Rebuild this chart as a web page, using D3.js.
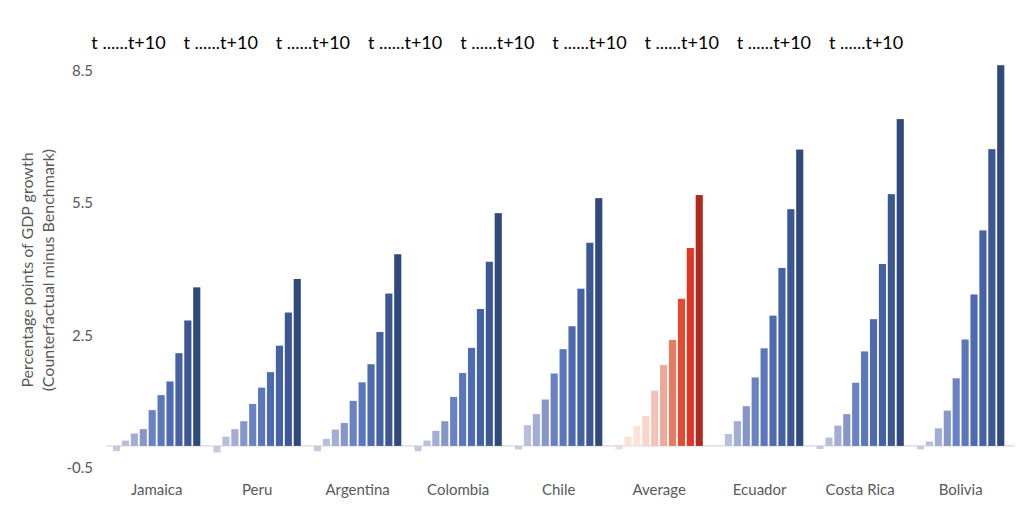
<!DOCTYPE html>
<html>
<head>
<meta charset="utf-8">
<script src="https://cdn.jsdelivr.net/npm/d3@7"></script>
<style>
body{ margin:0; background:#fff; }
svg text{ font-family: Lato, "Open Sans", sans-serif; }
.tick_lbl{ fill:#595959; font-size:15px; }
.cat_lbl{ fill:#595959; font-size:15px; }
.top_lbl{ fill:#000; font-size:18px; }
.y_title{ fill:#595959; font-size:16px; }
</style>
</head>
<body>
<svg></svg>
<script>
// data
var countries = ["Jamaica", "Peru", "Argentina", "Colombia", "Chile", "Average", "Ecuador", "Costa Rica", "Bolivia"];
var jamaica   = [-0.12, 0.12, 0.28, 0.38, 0.81, 1.15, 1.46, 2.10, 2.84, 3.59];
var peru      = [-0.15, 0.21, 0.38, 0.56, 0.95, 1.32, 1.67, 2.27, 3.02, 3.78];
var argentina = [-0.12, 0.16, 0.37, 0.52, 1.02, 1.44, 1.85, 2.58, 3.45, 4.34];
var colombia  = [-0.12, 0.12, 0.34, 0.56, 1.11, 1.65, 2.22, 3.10, 4.17, 5.27];
var chile     = [-0.08, 0.47, 0.72, 1.05, 1.64, 2.19, 2.71, 3.56, 4.60, 5.61];
var average   = [-0.08, 0.21, 0.45, 0.68, 1.25, 1.83, 2.40, 3.33, 4.48, 5.68];
var ecuador   = [0.00, 0.27, 0.56, 0.90, 1.55, 2.21, 2.95, 4.03, 5.36, 6.71];
var costaRica = [-0.07, 0.19, 0.46, 0.72, 1.43, 2.14, 2.87, 4.12, 5.70, 7.40];
var bolivia   = [-0.08, 0.10, 0.40, 0.80, 1.53, 2.41, 3.43, 4.88, 6.72, 8.62];
var series = [jamaica, peru, argentina, colombia, chile, average, ecuador, costaRica, bolivia];
var yTicks = [-0.5, 2.5, 5.5, 8.5];
var topLabels = d3.range(9).map(function(){ return "t ......t+10"; });

var blues = ["#c6cae1", "#b8bfdd", "#a3acd5", "#8796c9", "#6a82c4", "#5a76bd", "#4e6bb1", "#4562a4", "#3c5794", "#30497d"];
var reds  = ["#f6d7d6", "#fbe1d9", "#fbe3db", "#f7d6cc", "#f2c3b6", "#eea898", "#e77b62", "#e24b31", "#e0352a", "#b02a20"];

var width = 1024,
    height = 507;

var svg = d3.select("svg")
	.attr("width", width)
	.attr("height", height);

var x0 = d3.scaleBand()
	.domain(countries)
	.range([106.4, 1010.9])
	.paddingInner(0.131)
	.paddingOuter(0.0655);

var x1 = d3.scaleBand()
	.domain(d3.range(10))
	.range([0, x0.bandwidth()])
	.paddingInner(0.2);

var y = d3.scaleLinear()
	.domain([-0.5, 8.5])
	.range([468, 70.5]);

// baseline
svg.append("line")
	.attr("x1", 106)
	.attr("x2", 1015)
	.attr("y1", y(0))
	.attr("y2", y(0))
	.style("stroke", "#d9d9d9")
	.style("stroke-width", 1.3);

var groups = svg.selectAll("g.grp")
	.data(series)
	.enter().append("g")
	.attr("class", "grp")
	.attr("transform", function(d, i){ return "translate(" + x0(countries[i]) + ",0)"; });

groups.selectAll("rect")
	.data(function(d, i){ return d.map(function(v, j){ return {v: v, j: j, c: countries[i]}; }); })
	.enter().append("rect")
	.attr("x", function(d){ return x1(d.j); })
	.attr("width", x1.bandwidth())
	.attr("y", function(d){ return y(Math.max(0, d.v)); })
	.attr("height", function(d){ return Math.abs(y(d.v) - y(0)); })
	.style("fill", function(d){ return d.c == "Average" ? reds[d.j] : blues[d.j]; });

// y axis, no line, only labels
var yAxis = svg.append("g")
	.attr("transform", "translate(93,0)")
	.call(d3.axisLeft(y).tickValues(yTicks).tickSize(0).tickPadding(0)
		.tickFormat(function(d){ return d.toFixed(1); }));
yAxis.select(".domain").remove();
yAxis.selectAll("text").attr("class", "tick_lbl");

// category labels
svg.selectAll("text.cat_lbl")
	.data(countries)
	.enter().append("text")
	.attr("class", "cat_lbl")
	.attr("x", function(d){ return x0(d) + x0.bandwidth() / 2; })
	.attr("y", 495)
	.attr("text-anchor", "middle")
	.text(function(d){ return d; });

// labels along the top
var xTop = d3.scalePoint()
	.domain(d3.range(9))
	.range([128.5, 866.1]);

svg.selectAll("text.top_lbl")
	.data(topLabels)
	.enter().append("text")
	.attr("class", "top_lbl")
	.attr("x", function(d, i){ return xTop(i); })
	.attr("y", 49)
	.attr("text-anchor", "middle")
	.text(function(d){ return d; });

// axis title
var title = svg.append("text")
	.attr("class", "y_title")
	.attr("transform", "translate(33,270) rotate(-90)")
	.attr("text-anchor", "middle");
title.append("tspan").attr("x", 0).attr("dy", 0).text("Percentage points of GDP growth");
title.append("tspan").attr("x", 0).attr("dy", 21).text("(Counterfactual minus Benchmark)");
</script>
</body>
</html>
